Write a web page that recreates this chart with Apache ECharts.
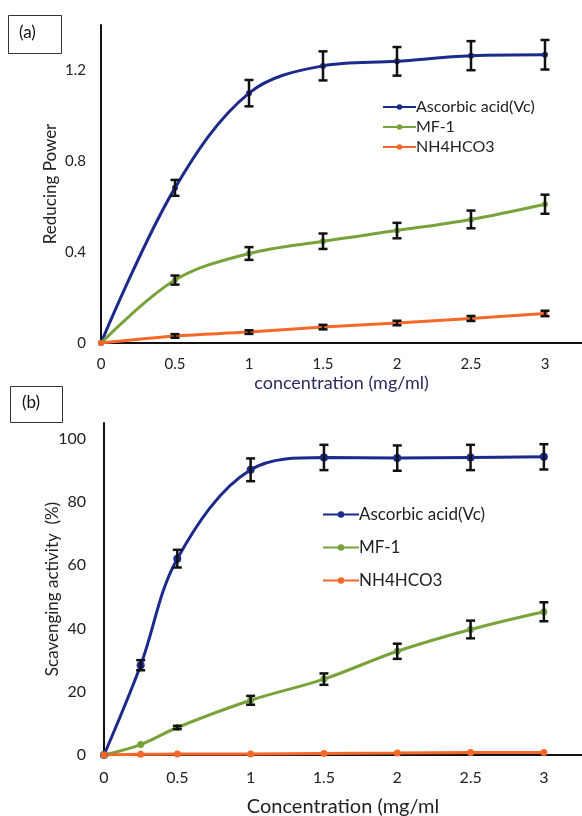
<!DOCTYPE html>
<html>
<head>
    <meta charset="utf-8">
    <title>Reducing power / scavenging activity</title>
    <script src="https://cdn.jsdelivr.net/npm/echarts@6/dist/echarts.min.js"></script>
    <style>
        html, body { margin: 0; padding: 0; background: #fff; }
        #main { width: 582px; height: 816px; }
    </style>
</head>
<body>
<div id="main"></div>
<script type="text/javascript">
    // ---- data, panel (a) reducing power
    var concA = [0, 0.5, 1, 1.5, 2, 2.5, 3];
    var vcA = [0, 0.683, 1.10, 1.22, 1.24, 1.265, 1.269];
    var vcA_sd = [0, 0.035, 0.058, 0.064, 0.063, 0.064, 0.065];
    var mfA = [0, 0.277, 0.394, 0.448, 0.495, 0.544, 0.611];
    var mfA_sd = [0, 0.02, 0.028, 0.034, 0.034, 0.039, 0.042];
    var nhA = [0, 0.031, 0.048, 0.070, 0.088, 0.108, 0.13];
    var nhA_sd = [0, 0.008, 0.008, 0.01, 0.01, 0.011, 0.012];

    // ---- data, panel (b) scavenging activity
    var concB = [0, 0.25, 0.5, 1, 1.5, 2, 2.5, 3];
    var vcB = [0, 28.4, 62.1, 90.2, 94.1, 93.9, 94.1, 94.3];
    var vcB_sd = [0, 1.6, 2.8, 3.6, 4, 4, 4, 4];
    var mfB = [0, 3.3, 8.7, 17.3, 24.0, 32.8, 39.7, 45.3];
    var mfB_sd = [0, 0, 0.5, 1.4, 1.8, 2.4, 2.8, 3];
    var nhB = [0, 0.2, 0.3, 0.3, 0.5, 0.6, 0.8, 0.8];

    var names = ['Ascorbic acid(Vc)', 'MF-1', 'NH4HCO3'];
    var colors = ['#1c2a8c', '#77a33a', '#f4692a'];
    var font = 'Lato, "Open Sans", sans-serif';

    function pairs(xs, ys) {
        return xs.map(function (x, i) { return [x, ys[i]]; });
    }
    function bars(xs, ys, sd) {
        var out = [];
        xs.forEach(function (x, i) {
            if (sd[i] > 0) out.push([x, ys[i] - sd[i], ys[i] + sd[i]]);
        });
        return out;
    }

    // error bar: vertical stroke with caps
    function errorBar(params, api) {
        var x = api.value(0);
        var top = api.coord([x, api.value(2)]);
        var bot = api.coord([x, api.value(1)]);
        var w = 4.5;
        var st = { stroke: '#111', lineWidth: 2.5 };
        return {
            type: 'group',
            children: [
                { type: 'line', shape: { x1: top[0], y1: top[1], x2: bot[0], y2: bot[1] }, style: st },
                { type: 'line', shape: { x1: top[0] - w, y1: top[1], x2: top[0] + w, y2: top[1] }, style: st },
                { type: 'line', shape: { x1: bot[0] - w, y1: bot[1], x2: bot[0] + w, y2: bot[1] }, style: st }
            ]
        };
    }

    function lineSeries(idx, name, data, symSize) {
        return {
            name: name,
            type: 'line',
            xAxisIndex: idx, yAxisIndex: idx,
            data: data,
            smooth: 0.35,
            symbol: 'circle',
            symbolSize: symSize,
            lineStyle: { width: 3, color: colors[names.indexOf(name)] },
            itemStyle: { color: colors[names.indexOf(name)] },
            z: 3
        };
    }
    function errSeries(idx, data) {
        return {
            type: 'custom',
            xAxisIndex: idx, yAxisIndex: idx,
            renderItem: errorBar,
            encode: { x: 0, y: [1, 2] },
            data: data,
            z: 4,
            silent: true
        };
    }

    var axisLine = { lineStyle: { color: '#111', width: 2 } };
    var tickLabel = { color: '#222', fontFamily: font, fontSize: 15, showMaxLabel: false };

    var myChart = echarts.init(document.getElementById('main'), null, { renderer: 'canvas' });

    var option = {
        animation: false,
        backgroundColor: '#fff',
        grid: [
            { left: 101, top: 25, width: 481, height: 318, outerBoundsMode: 'none' },
            { left: 104, top: 423, width: 478, height: 332, outerBoundsMode: 'none' }
        ],
        xAxis: [
            {
                gridIndex: 0, type: 'value', min: 0, max: 3.25, interval: 0.5,
                axisLine: axisLine, axisTick: { show: false }, splitLine: { show: false },
                axisLabel: Object.assign({}, tickLabel, { margin: 14 }),
                name: 'concentration (mg/ml)', nameLocation: 'middle', nameGap: 31, nameMoveOverlap: false,
                nameTextStyle: { color: '#2b2b5e', fontFamily: font, fontSize: 18 }
            },
            {
                gridIndex: 1, type: 'value', min: 0, max: 3.26, interval: 0.5,
                axisLine: axisLine, axisTick: { show: false }, splitLine: { show: false },
                axisLabel: Object.assign({}, tickLabel, { fontSize: 16, margin: 15 }),
                name: 'Concentration (mg/ml', nameLocation: 'middle', nameGap: 42, nameMoveOverlap: false,
                nameTextStyle: { color: '#222', fontFamily: font, fontSize: 20 }
            }
        ],
        yAxis: [
            {
                gridIndex: 0, type: 'value', min: 0, max: 1.4, interval: 0.4,
                axisLine: Object.assign({ show: true }, axisLine), axisTick: { show: false }, splitLine: { show: false },
                axisLabel: Object.assign({}, tickLabel, { margin: 15 }),
                name: 'Reducing Power', nameLocation: 'middle', nameGap: 42, nameMoveOverlap: false,
                nameTextStyle: { color: '#222', fontFamily: font, fontSize: 17 }
            },
            {
                gridIndex: 1, type: 'value', min: 0, max: 105, interval: 20,
                axisLine: Object.assign({ show: true }, axisLine), axisTick: { show: false }, splitLine: { show: false },
                axisLabel: Object.assign({}, tickLabel, { fontSize: 16, margin: 18 }),
                name: 'Scavenging activity  (%)', nameLocation: 'middle', nameGap: 43, nameMoveOverlap: false,
                nameTextStyle: { color: '#222', fontFamily: font, fontSize: 17 }
            }
        ],
        legend: [
            {
                data: names, orient: 'vertical', left: 377, top: 94,
                itemWidth: 33, itemHeight: 7, itemGap: 4,
                textStyle: { color: '#222', fontFamily: font, fontSize: 16, padding: [0, 0, 0, -5] }
            },
            {
                data: names, orient: 'vertical', left: 317, top: 501,
                itemWidth: 36, itemHeight: 8, itemGap: 16,
                textStyle: { color: '#222', fontFamily: font, fontSize: 17, padding: [0, 0, 0, -5] }
            }
        ],
        graphic: [
            {
                type: 'rect', left: 8, top: 15, shape: { width: 53, height: 38 },
                style: { fill: '#fff', stroke: '#333', lineWidth: 1 }
            },
            {
                type: 'text', left: 19, top: 24,
                style: { text: '(a)', fill: '#111', font: '17px ' + font }
            },
            {
                type: 'rect', left: 10, top: 386, shape: { width: 52, height: 36 },
                style: { fill: '#fff', stroke: '#333', lineWidth: 1 }
            },
            {
                type: 'text', left: 22, top: 394,
                style: { text: '(b)', fill: '#111', font: '17px ' + font }
            }
        ],
        series: [
            lineSeries(0, names[0], pairs(concA, vcA), 6),
            lineSeries(0, names[1], pairs(concA, mfA), 6),
            lineSeries(0, names[2], pairs(concA, nhA), 6),
            errSeries(0, bars(concA, vcA, vcA_sd)),
            errSeries(0, bars(concA, mfA, mfA_sd)),
            errSeries(0, bars(concA, nhA, nhA_sd)),
            lineSeries(1, names[0], pairs(concB, vcB), 8),
            lineSeries(1, names[1], pairs(concB, mfB), 7),
            lineSeries(1, names[2], pairs(concB, nhB), 7),
            errSeries(1, bars(concB, vcB, vcB_sd)),
            errSeries(1, bars(concB, mfB, mfB_sd))
        ]
    };
    myChart.setOption(option);
</script>
</body>
</html>
